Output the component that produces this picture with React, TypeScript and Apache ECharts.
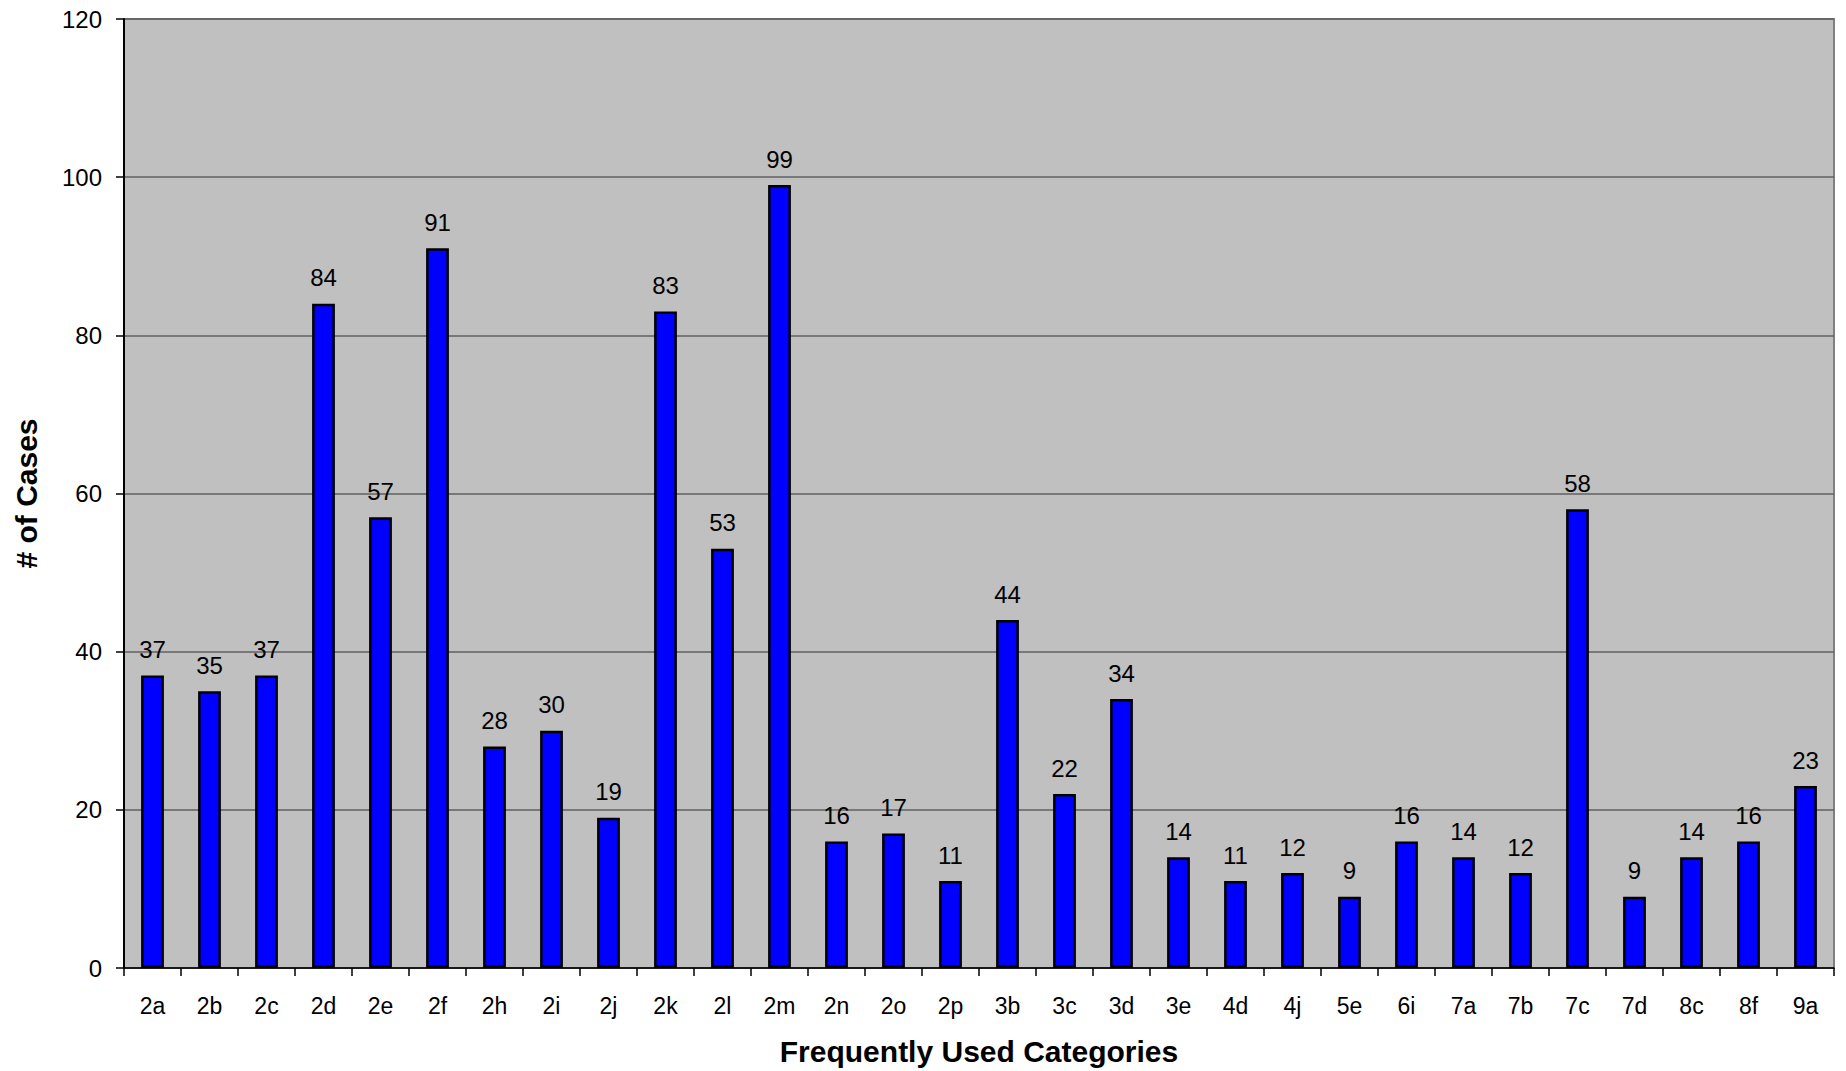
import React, { useEffect, useRef } from "react";
import * as echarts from "echarts";

const categories = ["2a","2b","2c","2d","2e","2f","2h","2i","2j","2k","2l","2m","2n","2o","2p","3b","3c","3d","3e","4d","4j","5e","6i","7a","7b","7c","7d","8c","8f","9a"];
const cases = [37,35,37,84,57,91,28,30,19,83,53,99,16,17,11,44,22,34,14,11,12,9,16,14,12,58,9,14,16,23];
const yTicks = { min: 0, max: 120, interval: 20 };
const xTitle = "Frequently Used Categories";
const yTitle = "# of Cases";

const FONT = "'Liberation Sans', Arial, sans-serif";

export default function App() {
  const ref = useRef<HTMLDivElement>(null);
  useEffect(() => {
    if (!ref.current) return;
    const chart = echarts.init(ref.current, undefined, { renderer: "svg" });
    chart.setOption({
      animation: false,
      backgroundColor: "#ffffff",
      textStyle: { fontFamily: FONT },
      grid: {
        left: 124, top: 19, right: 12, bottom: 100,
        show: true, backgroundColor: "#C0C0C0", borderColor: "#808080", borderWidth: 2,
      },
      xAxis: {
        type: "category",
        data: categories,
        boundaryGap: true,
        name: xTitle,
        nameLocation: "middle",
        nameGap: 68,
        nameTextStyle: { fontFamily: FONT, fontSize: 30, fontWeight: "bold", color: "#000" },
        axisLine: { lineStyle: { color: "#000", width: 1.5 } },
        axisTick: { show: true, alignWithLabel: false, length: 8, lineStyle: { color: "#000", width: 1.5 } },
        axisLabel: { fontFamily: FONT, fontSize: 23, color: "#000", margin: 26, interval: 0 },
        splitLine: { show: false },
      },
      yAxis: {
        type: "value",
        min: yTicks.min, max: yTicks.max, interval: yTicks.interval,
        name: yTitle,
        nameLocation: "middle",
        nameGap: 83,
        nameRotate: 90,
        nameTextStyle: { fontFamily: FONT, fontSize: 30, fontWeight: "bold", color: "#000" },
        axisLine: { show: true, lineStyle: { color: "#000", width: 2 } },
        axisTick: { show: true, length: 8, lineStyle: { color: "#000", width: 1.5 } },
        axisLabel: { fontFamily: FONT, fontSize: 24, color: "#000", margin: 22 },
        splitLine: { show: true, lineStyle: { color: "#606060", width: 1.5 } },
      },
      series: [{
        type: "bar",
        data: cases,
        barWidth: "40%",
        itemStyle: { color: "#0000FF", borderColor: "#000", borderWidth: 2.5 },
        label: { show: true, position: "top", distance: 14, fontFamily: FONT, fontSize: 24, color: "#000" },
      }],
    });
    return () => chart.dispose();
  }, []);
  return <div ref={ref} style={{ position: "fixed", left: 0, top: 0, width: 1846, height: 1071 }} />;
}
